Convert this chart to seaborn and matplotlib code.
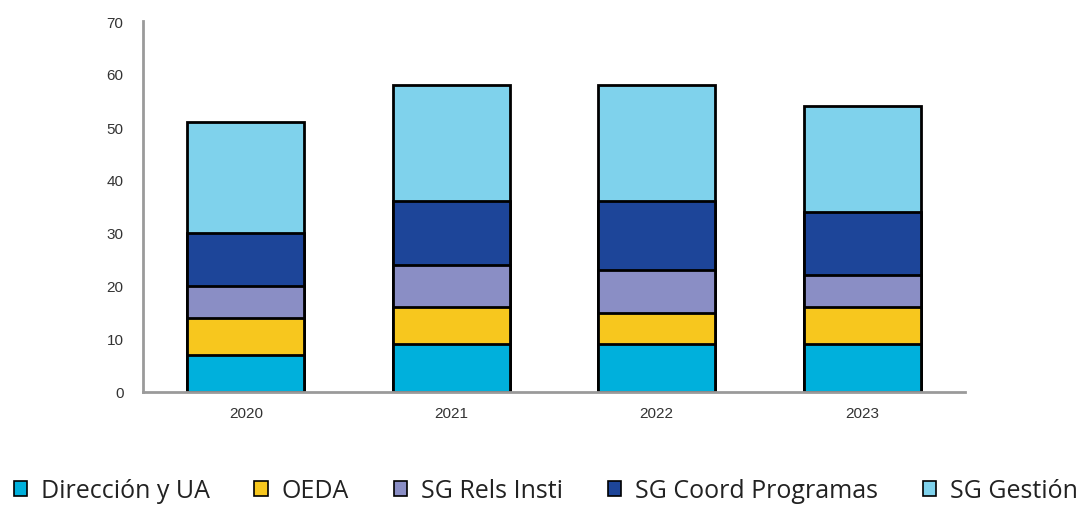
import numpy as np
import pandas as pd
import matplotlib
matplotlib.use("Agg")
import matplotlib.pyplot as plt
import seaborn as sns
from matplotlib.patches import Patch

years = ["2020", "2021", "2022", "2023"]
series_names = ["Dirección y UA", "OEDA", "SG Rels Insti", "SG Coord Programas", "SG Gestión"]
direccion = [7, 9, 9, 9]
oeda = [7, 7, 6, 7]
rels = [6, 8, 8, 6]
coord = [10, 12, 13, 12]
gestion = [21, 22, 22, 20]
colors = ["#00B0DC", "#F7C71E", "#8A8EC5", "#1D4599", "#7FD2EC"]

sns.set_theme(style="white")
plt.rcParams['font.family'] = ['Liberation Sans', 'DejaVu Sans']

fig = plt.figure(figsize=(10.85, 5.06), dpi=100)
ax = fig.add_axes([143/1085, 1-393/506, (965-143)/1085, (393-22)/506])

vals = np.array([direccion, oeda, rels, coord, gestion], dtype=float)
cum = np.cumsum(vals, axis=0)

for i in range(len(series_names) - 1, -1, -1):
    df = pd.DataFrame({"year": years, "value": cum[i]})
    sns.barplot(data=df, x="year", y="value", color=colors[i], width=0.57,
                edgecolor="black", linewidth=2, ax=ax, saturation=1)

ax.set_ylim(0, 70)
ax.set_xlim(-0.5, 3.5)
ax.set_yticks(range(0, 71, 10))
ax.set_xlabel("")
ax.set_ylabel("")
for s in ["top", "right"]:
    ax.spines[s].set_visible(False)
for s in ["left", "bottom"]:
    ax.spines[s].set_color("#9a9a9a")
    ax.spines[s].set_linewidth(2)
ax.tick_params(axis="both", length=0, labelsize=11, labelcolor="#333333")
ax.tick_params(axis="y", pad=14)
ax.tick_params(axis="x", pad=10)

handles = [Patch(facecolor=c, edgecolor="black", linewidth=1.2) for c in colors]
leg = fig.legend(handles, series_names, loc="center", bbox_to_anchor=(0.503, 14/506),
                 ncol=5, frameon=False, handlelength=0.55, handleheight=0.55,
                 columnspacing=1.78, handletextpad=0.55,
                 prop={"family": ["Open Sans", "DejaVu Sans"], "size": 18})
for t in leg.get_texts():
    t.set_color("#222222")

fig.savefig("out.png", dpi=100)
